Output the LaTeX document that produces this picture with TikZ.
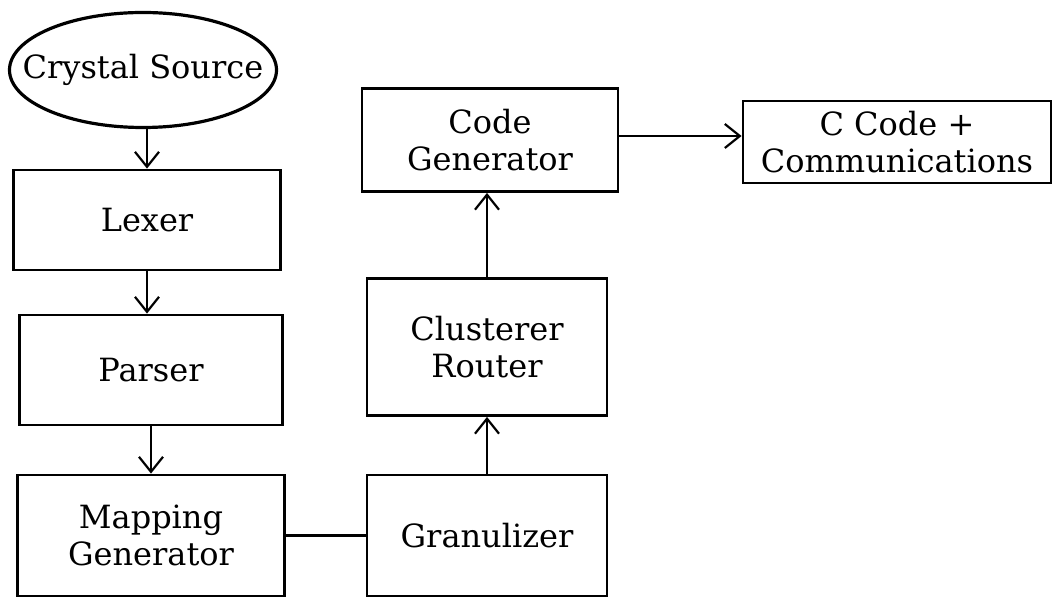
\documentclass[tikz,border=0pt]{standalone}
\usepackage{fontspec}
\setmainfont{DejaVu Serif}
\usetikzlibrary{shapes.geometric,arrows.meta}

\begin{document}
\begin{tikzpicture}[x=0.5pt, y=-0.5pt,
    font=\fontsize{16}{18.5}\selectfont,
    blok/.style={draw, line width=1.4pt, align=center, inner sep=0pt},
    flow/.style={line width=1.1pt, -{Straight Barb[length=7.5pt, width=12pt, line width=1.1pt]}}]
  \useasboundingbox (0,0) rectangle (1054,598);
  % --- kildefil og de tre foerste trin ---
  \node[draw, ellipse, line width=1.6pt, inner xsep=-25pt, inner ysep=0pt,
        minimum width=133.5pt, minimum height=57.5pt] (src) at (143,70) {Crystal Source};
  \node[blok, minimum width=133.5pt, minimum height=50pt] (lexer) at (147,220) {Lexer};
  \node[blok, minimum width=131.5pt, minimum height=55pt] (parser) at (151,370) {Parser};
  \node[blok, minimum width=133.5pt, minimum height=60.5pt] (mapgen) at (151,535.5) {Mapping\\Generator};
  % --- anden soejle ---
  \node[blok, minimum width=120pt, minimum height=60.5pt] (gran) at (487,535.5) {Granulizer};
  \node[blok, minimum width=120pt, minimum height=68.5pt] (clust) at (487,347) {Clusterer\\Router};
  \node[blok, minimum width=128pt, minimum height=51.5pt] (codegen) at (490,140) {Code\\Generator};
  \node[blok, minimum width=154pt, minimum height=41pt] (ccode) at (897,142) {C Code +\\Communications};
  % --- forbindelser ---
  \draw[flow] (lexer.north |- src.south) -- (lexer.north);
  \draw[flow] (lexer.south) -- (lexer.south |- parser.north);
  \draw[flow] (parser.south) -- (parser.south |- mapgen.north);
  \draw[line width=1.1pt] (mapgen) -- (gran);
  \draw[flow] (gran) -- (clust);
  \draw[flow] (clust.north) -- (clust.north |- codegen.south);
  \draw[flow] (codegen.east |- 0,136) -- (ccode.west |- 0,136);
\end{tikzpicture}
\end{document}
